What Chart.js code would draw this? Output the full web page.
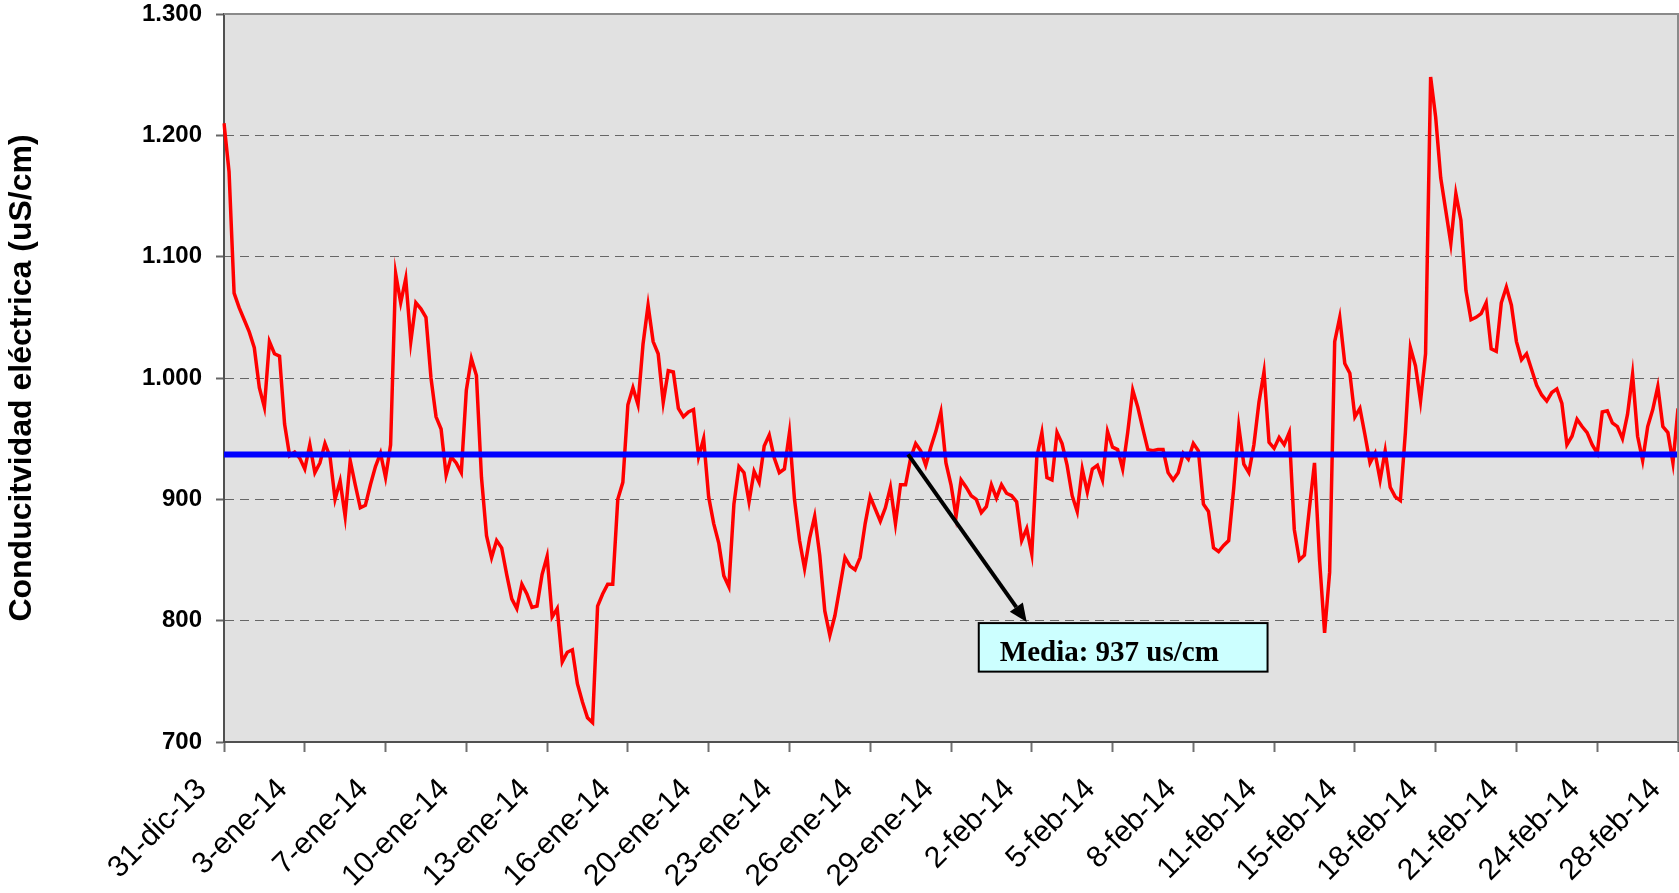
<!DOCTYPE html>
<html>
<head>
<meta charset="utf-8">
<style>
  html, body { margin: 0; padding: 0; background: #fff; }
  #wrap { width: 1679px; height: 893px; }
</style>
</head>
<body>
<div id="wrap"><canvas id="conductChart"></canvas></div>
<script src="https://cdn.jsdelivr.net/npm/chart.js"></script>
<script>
// etiquetas del eje X (una cada 16 lecturas)
const tickLabels = ['31-dic-13','3-ene-14','7-ene-14','10-ene-14','13-ene-14','16-ene-14','20-ene-14',
  '23-ene-14','26-ene-14','29-ene-14','2-feb-14','5-feb-14','8-feb-14','11-feb-14','15-feb-14',
  '18-feb-14','21-feb-14','24-feb-14','28-feb-14'];
const puntosPorTramo = 16;

// conductividad electrica (uS/cm)
const conductividad = [
  1210,1170,1070,1058,1048,1038,1025,992,976,1030,1020,1018,962,936,939,934,
  925,945,922,930,946,935,900,915,886,932,912,893,895,912,927,938,
  918,945,1086,1062,1082,1030,1062,1057,1050,1000,968,958,920,935,930,922,
  990,1016,1002,918,870,852,866,860,838,818,810,830,822,811,812,838,
  853,803,810,766,774,776,748,733,720,716,812,822,830,830,900,914,
  978,992,978,1028,1060,1030,1020,980,1006,1005,975,968,972,974,935,950,
  902,880,864,837,828,896,927,922,898,923,914,944,953,934,922,925,
  955,900,866,843,868,886,854,808,788,804,828,852,845,842,852,880,
  902,892,882,893,910,880,912,912,934,946,940,928,943,956,972,930,
  912,886,916,910,903,900,889,894,912,901,912,905,903,898,866,876,
  855,935,955,918,916,955,946,928,903,890,925,906,925,928,916,956,
  943,941,925,955,990,976,958,941,940,941,941,922,916,922,938,933,
  946,940,896,890,860,857,862,866,909,960,929,922,945,980,1005,947,
  942,951,945,955,875,850,854,893,930,850,790,840,1030,1050,1012,1004,
  968,975,953,930,938,916,940,910,902,899,955,1025,1010,981,1020,1248,
  1215,1165,1138,1111,1152,1130,1072,1048,1050,1053,1062,1024,1022,1062,1075,1060,
  1030,1015,1020,1007,994,986,981,988,991,979,945,952,966,960,955,945,
  938,972,973,963,960,950,970,1003,952,932,960,974,993,960,955,930,
  975
];
const media = 937;
const yTicks = [700, 800, 900, 1000, 1100, 1200, 1300];

const labels = conductividad.map((_, i) => i % puntosPorTramo === 0 ? tickLabels[i / puntosPorTramo] : '');

function fmtMiles(v) {
  if (v >= 1000) return Math.floor(v / 1000) + '.' + String(v % 1000).padStart(3, '0');
  return String(v);
}

const decor = {
  id: 'decor',
  beforeDraw(chart) {
    const {ctx, chartArea: a} = chart;
    ctx.save();
    ctx.fillStyle = '#e1e1e1';
    ctx.fillRect(a.left, a.top, a.right - a.left, a.bottom - a.top);
    ctx.restore();
  },
  afterDatasetsDraw(chart) {
    const {ctx, chartArea: a, scales: {x, y}} = chart;
    ctx.save();
    // linea de la media
    const ym = y.getPixelForValue(media);
    ctx.strokeStyle = '#0000ff';
    ctx.lineWidth = 6;
    ctx.beginPath();
    ctx.moveTo(a.left, ym);
    ctx.lineTo(a.right, ym);
    ctx.stroke();

    // marco superior y derecho
    ctx.strokeStyle = '#8a8a8a';
    ctx.lineWidth = 2;
    ctx.beginPath();
    ctx.moveTo(a.left, a.top);
    ctx.lineTo(a.right, a.top);
    ctx.lineTo(a.right, a.bottom);
    ctx.stroke();

    // flecha hacia la etiqueta
    const x0 = x.getPixelForValue(135.5), y0 = ym;
    const x1 = x.getPixelForValue(159), y1 = y.getPixelForValue(799);
    const ang = Math.atan2(y1 - y0, x1 - x0);
    const hl = 18, hw = 8;
    const bx = x1 - hl * Math.cos(ang), by = y1 - hl * Math.sin(ang);
    ctx.strokeStyle = '#000';
    ctx.lineWidth = 4;
    ctx.beginPath();
    ctx.moveTo(x0, y0);
    ctx.lineTo(bx, by);
    ctx.stroke();
    ctx.fillStyle = '#000';
    ctx.beginPath();
    ctx.moveTo(x1, y1);
    ctx.lineTo(bx + hw * Math.sin(ang), by - hw * Math.cos(ang));
    ctx.lineTo(bx - hw * Math.sin(ang), by + hw * Math.cos(ang));
    ctx.closePath();
    ctx.fill();

    // caja de texto
    const left = x.getPixelForValue(149.5), right = x.getPixelForValue(206.7);
    const top = y.getPixelForValue(798), bottom = y.getPixelForValue(758);
    ctx.fillStyle = '#ccffff';
    ctx.fillRect(left, top, right - left, bottom - top);
    ctx.strokeStyle = '#000';
    ctx.lineWidth = 2;
    ctx.strokeRect(left, top, right - left, bottom - top);
    ctx.fillStyle = '#000';
    ctx.font = 'bold 29px "Liberation Serif", "Times New Roman", serif';
    ctx.textAlign = 'left';
    ctx.textBaseline = 'alphabetic';
    ctx.fillText('Media: ' + media + ' us/cm', left + 21, y.getPixelForValue(767));
    ctx.restore();
  }
};

new Chart(document.getElementById('conductChart'), {
  type: 'line',
  data: {
    labels: labels,
    datasets: [{
      label: 'Conductividad',
      data: conductividad,
      borderColor: '#ff0000',
      borderWidth: 3.5,
      pointRadius: 0,
      tension: 0,
      fill: false
    }]
  },
  options: {
    responsive: true,
    maintainAspectRatio: false,
    animation: false,
    layout: { padding: { top: 14, right: 1, bottom: 0, left: 0 } },
    plugins: { legend: { display: false }, tooltip: { enabled: false } },
    scales: {
      x: {
        type: 'category',
        offset: false,
        afterFit(s) { s.height = 151; s.paddingLeft = 0; s.paddingRight = 0; },
        grid: { drawOnChartArea: false, drawTicks: true, tickLength: 10, tickColor: '#707070', tickWidth: 2 },
        border: { display: true, color: '#505050', width: 2 },
        ticks: {
          autoSkip: false,
          maxRotation: 45,
          minRotation: 45,
          padding: 20,
          labelOffset: -22,
          color: '#000',
          font: { family: '"Liberation Sans", Arial, sans-serif', size: 30 },
          callback: (v, i) => i % puntosPorTramo === 0 ? tickLabels[i / puntosPorTramo] : null
        }
      },
      y: {
        min: 700,
        max: 1300,
        afterFit(s) { s.width = 224; s.paddingTop = 0; s.paddingBottom = 0; },
        afterBuildTicks(s) { s.ticks = yTicks.map(v => ({ value: v })); },
        grid: {
          color: c => (c.tick && (c.tick.value === 700 || c.tick.value === 1300)) ? 'rgba(0,0,0,0)' : '#666666',
          lineWidth: 1,
          tickLength: 8,
          tickColor: '#666666',
          tickWidth: 2
        },
        border: { display: true, color: '#505050', width: 2, dash: [9, 6] },
        ticks: {
          padding: 14,
          color: '#000',
          font: { family: '"Liberation Sans", Arial, sans-serif', size: 24, weight: 'bold' },
          callback: v => fmtMiles(v)
        },
        title: {
          display: true,
          text: 'Conducitvidad eléctrica (uS/cm)',
          color: '#000',
          padding: { top: 3, bottom: 0 },
          font: { family: '"Liberation Sans", Arial, sans-serif', size: 32, weight: 'bold' }
        }
      }
    }
  },
  plugins: [decor]
});
</script>
</body>
</html>
